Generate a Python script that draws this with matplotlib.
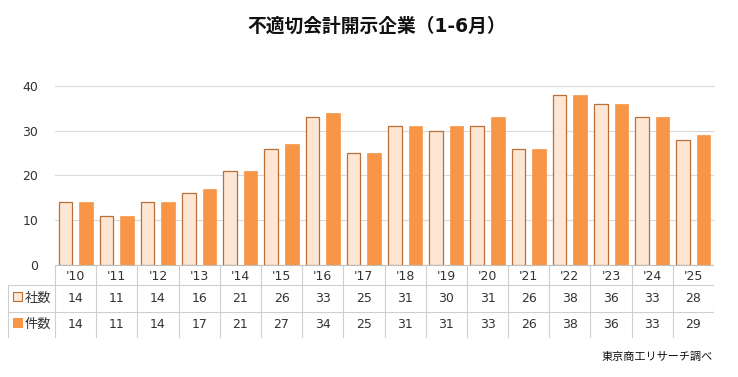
import matplotlib
matplotlib.use("Agg")
import matplotlib.pyplot as plt
from matplotlib.patches import Rectangle

plt.rcParams["font.family"] = ["DejaVu Sans", "Noto Sans CJK JP"]

YEARS = ["'10", "'11", "'12", "'13", "'14", "'15", "'16", "'17",
         "'18", "'19", "'20", "'21", "'22", "'23", "'24", "'25"]
COMPANIES = [14, 11, 14, 16, 21, 26, 33, 25, 31, 30, 31, 26, 38, 36, 33, 28]
CASES = [14, 11, 14, 17, 21, 27, 34, 25, 31, 31, 33, 26, 38, 36, 33, 29]
SERIES_LABELS = ["社数", "件数"]

LIGHT = "#FDE6D3"
EDGE = "#B96F35"
ORANGE = "#F79646"
GRID = "#DADADA"
TEXT = "#333333"

W, H = 738, 377
fig = plt.figure(figsize=(W / 100, H / 100), dpi=100)

# pixel geometry
x0, x1 = 55, 714
y_top, y_zero = 86, 265
ax = fig.add_axes([x0 / W, 1 - y_zero / H, (x1 - x0) / W, (y_zero - y_top) / H])

n = len(YEARS)
xs = list(range(n))
bw = 0.33
ax.bar([x - 0.25 for x in xs], COMPANIES, width=bw, color=LIGHT,
       edgecolor=EDGE, linewidth=0.9, zorder=3)
ax.bar([x + 0.25 for x in xs], CASES, width=bw, color=ORANGE,
       edgecolor=ORANGE, linewidth=0.5, zorder=3)

ax.set_xlim(-0.5, n - 0.5)
ax.set_ylim(0, 40)
ax.set_yticks([0, 10, 20, 30, 40])
ax.set_yticklabels(["0", "10", "20", "30", "40"], fontsize=9, color=TEXT)
ax.tick_params(axis="y", length=0, pad=12)
ax.set_xticks([])
ax.yaxis.grid(True, color=GRID, linewidth=0.8, zorder=0)
ax.set_axisbelow(True)
for s in ax.spines.values():
    s.set_visible(False)
ax.axhline(40, color=GRID, linewidth=0.8, zorder=0, clip_on=False)

# ----- data table -----
t_left, t_bot = 8, 338
tax = fig.add_axes([t_left / W, 1 - t_bot / H, (x1 - t_left) / W, (t_bot - y_zero) / H])
colw = (x1 - x0) / n
lab_left = -0.5 - (x0 - t_left) / colw
tax.set_xlim(lab_left, n - 0.5)
tax.set_ylim(t_bot, y_zero)
tax.axis("off")

r1, r2 = 285, 311.5
lc = "#CFCFCF"
lw = 0.8
# horizontal lines
tax.plot([-0.5, n - 0.5], [y_zero, y_zero], color="#BFBFBF", lw=lw)
for yy in (r1, r2, t_bot):
    tax.plot([lab_left, n - 0.5], [yy, yy], color=lc, lw=lw)
# vertical lines
for i in range(n + 1):
    tax.plot([i - 0.5, i - 0.5], [y_zero, t_bot], color=lc, lw=lw)
tax.plot([lab_left, lab_left], [r1, t_bot], color=lc, lw=lw)

for i, yr in enumerate(YEARS):
    tax.text(i, (y_zero + r1) / 2 + 1, yr, ha="center", va="center",
             fontsize=9, color=TEXT)
    tax.text(i, (r1 + r2) / 2, str(COMPANIES[i]), ha="center", va="center",
             fontsize=9, color=TEXT)
    tax.text(i, (r2 + t_bot) / 2, str(CASES[i]), ha="center", va="center",
             fontsize=9, color=TEXT)

# legend keys in label column
sq = 9 / colw
for (yc, fc, ec, lab) in [((r1 + r2) / 2, LIGHT, EDGE, SERIES_LABELS[0]),
                          ((r2 + t_bot) / 2, ORANGE, ORANGE, SERIES_LABELS[1])]:
    tax.add_patch(Rectangle((lab_left + 5 / colw, yc - 6.5), sq, 9,
                            facecolor=fc, edgecolor=ec, linewidth=0.8))
    tax.text(lab_left + 17 / colw, yc, lab, ha="left", va="center",
             fontsize=9.5, color=TEXT)

fig.text(377 / W, 1 - 26 / H, "不適切会計開示企業（1-6月）", ha="center",
         va="center", fontsize=13.5, fontweight="bold", color="#111111")
fig.text(713 / W, 1 - 357 / H, "東京商工リサーチ調べ", ha="right",
         va="center", fontsize=8, color="#111111")

fig.savefig("out.png", dpi=100, facecolor="white")
